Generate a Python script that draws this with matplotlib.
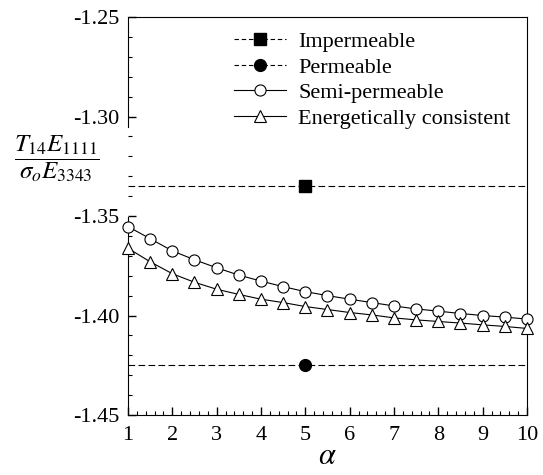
import numpy as np
import matplotlib
matplotlib.use('Agg')
from matplotlib import pyplot as plt
from matplotlib.ticker import MultipleLocator

plt.rcParams['font.family'] = ['Liberation Serif', 'DejaVu Serif']
plt.rcParams['mathtext.fontset'] = 'stix'

alpha = [1, 1.5, 2, 2.5, 3, 3.5, 4, 4.5, 5, 5.5, 6, 6.5, 7, 7.5, 8, 8.5, 9, 9.5, 10]
semi = [-1.3553, -1.3614, -1.3675, -1.3720, -1.3760, -1.3797, -1.3827, -1.3855, -1.3880,
        -1.3900, -1.3918, -1.3935, -1.3952, -1.3967, -1.3978, -1.3990, -1.4000, -1.4008, -1.4018]
energ = [-1.3662, -1.3730, -1.3790, -1.3833, -1.3868, -1.3894, -1.3918, -1.3935, -1.3955,
         -1.3970, -1.3985, -1.3997, -1.4012, -1.4022, -1.4030, -1.4038, -1.4047, -1.4055, -1.4065]
imperm = -1.335
perm = -1.425
x_mark = 5

fig = plt.figure(figsize=(5.43, 4.75), dpi=100)
ax = fig.add_axes([0.2357, 0.1263, 0.7348, 0.8379])

ax.axhline(imperm, color='k', ls=(0, (6, 3)), lw=0.8, zorder=1)
ax.axhline(perm, color='k', ls=(0, (6, 3)), lw=0.8, zorder=1)
ax.plot([x_mark], [imperm], 's', color='k', ms=8.5, zorder=3)
ax.plot([x_mark], [perm], 'o', color='k', ms=8.5, zorder=3)
ax.plot(alpha, semi, '-o', color='k', lw=0.8, ms=8, mfc='white', mec='k', mew=0.8,
        clip_on=False, zorder=3)
ax.plot(alpha, energ, '-^', color='k', lw=0.8, ms=9, mfc='white', mec='k', mew=0.8,
        clip_on=False, zorder=3)

# legend proxies
h1, = ax.plot([], [], ls=(0, (4, 2.5)), marker='s', color='k', lw=0.8, ms=8.5)
h2, = ax.plot([], [], ls=(0, (4, 2.5)), marker='o', color='k', lw=0.8, ms=8.5)
h3, = ax.plot([], [], '-o', color='k', lw=0.8, ms=8, mfc='white', mew=0.8)
h4, = ax.plot([], [], '-^', color='k', lw=0.8, ms=9, mfc='white', mew=0.8)
ax.legend([h1, h2, h3, h4],
          ['Impermeable', 'Permeable', 'Semi-permeable', 'Energetically consistent'],
          loc='upper left', bbox_to_anchor=(0.227, 1.003), frameon=False, fontsize=16,
          handlelength=2.34, handletextpad=0.54, labelspacing=0.23, borderpad=0.2)

ax.set_xlim(1, 10)
ax.set_ylim(-1.45, -1.25)
ax.xaxis.set_major_locator(MultipleLocator(1))
ax.xaxis.set_minor_locator(MultipleLocator(0.2))
ax.yaxis.set_major_locator(MultipleLocator(0.05))
ax.yaxis.set_minor_locator(MultipleLocator(0.01))
ax.yaxis.set_major_formatter(matplotlib.ticker.FormatStrFormatter('%.2f'))
ax.tick_params(which='both', direction='in', top=False, right=False, labelsize=16)
ax.tick_params(which='major', length=6, width=1)
ax.tick_params(which='minor', length=3, width=0.8)
ax.tick_params(axis='x', pad=8)
ax.tick_params(axis='y', pad=6)
for s in ax.spines.values():
    s.set_linewidth(0.8)

# left spine has a gap behind the y label
ax.spines['left'].set_visible(False)
ax.plot([0, 0], [0, 0.4975], color='k', lw=0.8, transform=ax.transAxes, clip_on=False)
ax.plot([0, 0], [0.7235, 1], color='k', lw=0.8, transform=ax.transAxes, clip_on=False)

ax.set_xlabel(r'$\alpha$', fontsize=22, labelpad=-2)
fig.text(0.026, 0.665, r'$\dfrac{T_{14}E_{1111}}{\sigma_o E_{3343}}$', fontsize=18,
         ha='left', va='center')

fig.savefig('out.png', dpi=100)
